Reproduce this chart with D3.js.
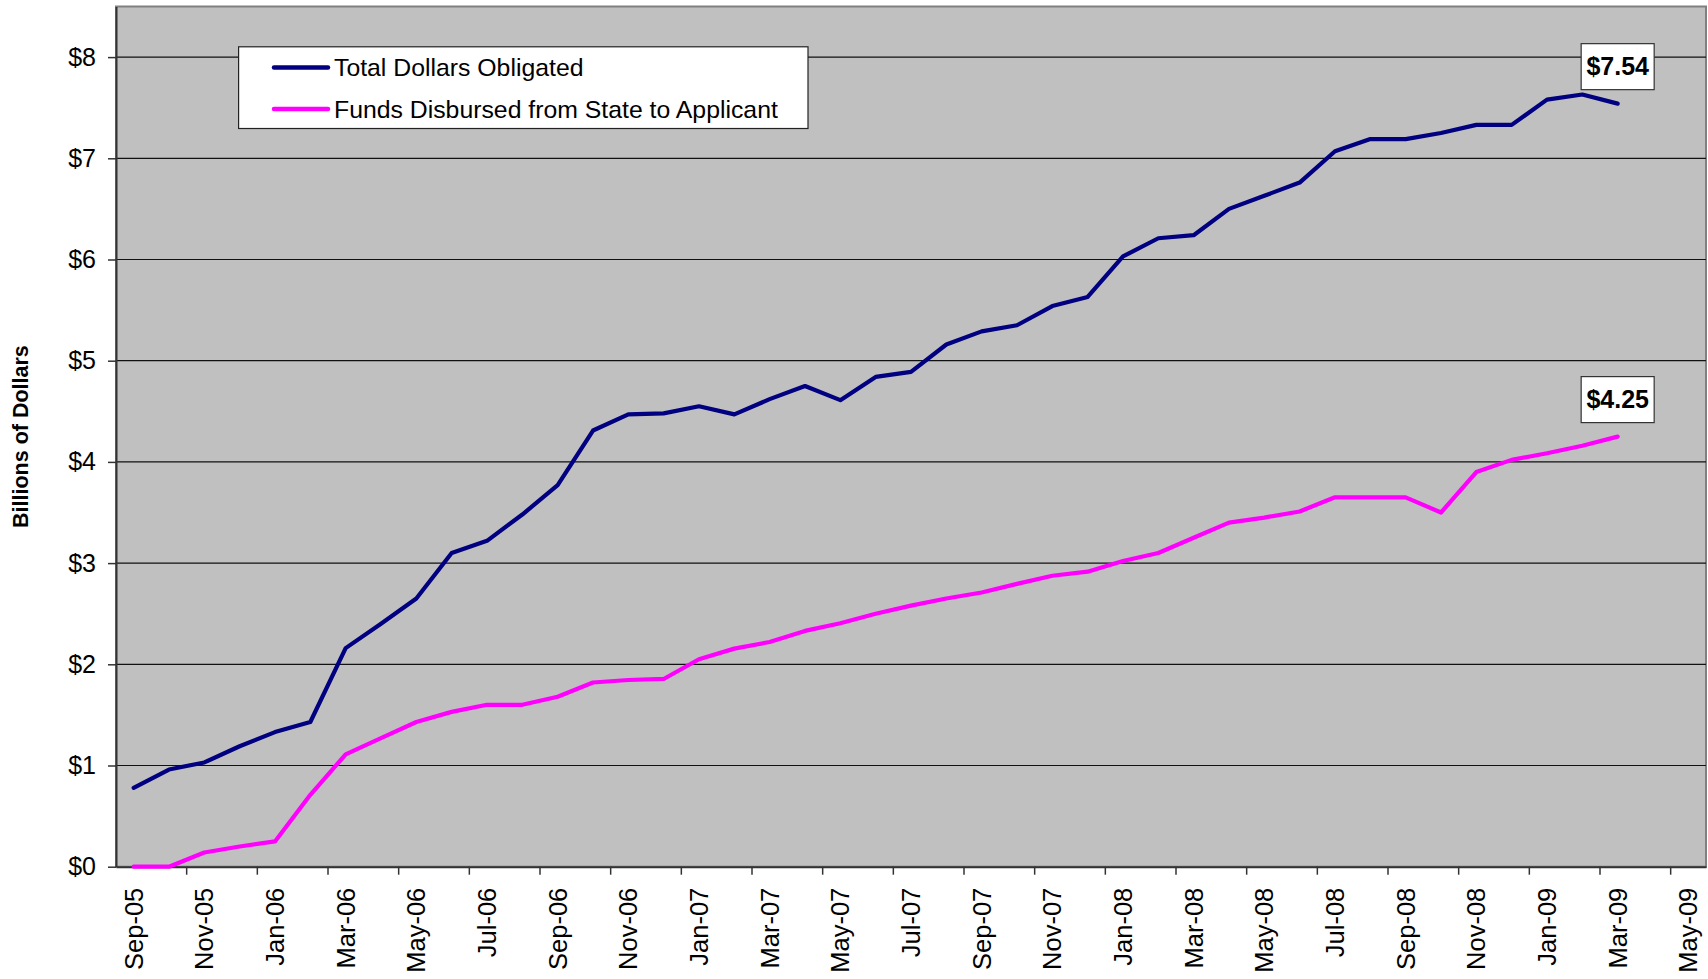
<!DOCTYPE html>
<html>
<head>
<meta charset="utf-8">
<script src="https://cdn.jsdelivr.net/npm/d3@7"></script>
<style>
  body { margin: 0; background: #fff; }
  text { font-family: "Liberation Sans", Arial, sans-serif; }
</style>
</head>
<body>
<div id="chart"></div>
<script>
// months on the axis: Sep-05 .. May-09
const MONTHS = d3.timeMonth.range(new Date(2005, 8, 1), new Date(2009, 5, 1));
const fmtMonth = d3.timeFormat("%b-%y");

// values in billions, one per month Sep-05 .. Mar-09
const obligated = [0.78, 0.96, 1.03, 1.19, 1.33, 1.43, 2.16, 2.40, 2.65, 3.10, 3.22, 3.48, 3.77,
  4.31, 4.47, 4.48, 4.55, 4.47, 4.62, 4.75, 4.61, 4.84, 4.89, 5.16, 5.29, 5.35, 5.54, 5.63,
  6.03, 6.21, 6.24, 6.50, 6.63, 6.76, 7.07, 7.19, 7.19, 7.25, 7.33, 7.33, 7.58, 7.63, 7.54];
const disbursed = [0, 0, 0.14, 0.20, 0.25, 0.71, 1.11, 1.27, 1.43, 1.53, 1.60, 1.60, 1.68,
  1.82, 1.845, 1.855, 2.05, 2.155, 2.22, 2.33, 2.405, 2.50, 2.58, 2.65, 2.71, 2.795, 2.875, 2.915,
  3.02, 3.10, 3.25, 3.40, 3.45, 3.51, 3.65, 3.65, 3.65, 3.50, 3.90, 4.02, 4.085, 4.16, 4.25];

const seriesNames = ["Total Dollars Obligated", "Funds Disbursed from State to Applicant"];
const seriesColors = ["#000080", "#FF00FF"];
const yTicks = [0, 1, 2, 3, 4, 5, 6, 7, 8];

const WIDTH = 1708, HEIGHT = 979;
const MARGIN = { top: 6.5, bottom: 112.3, left: 116, right: 2 };
const FONT = "'Liberation Sans', Arial, sans-serif";

const svg = d3.select("#chart").append("svg")
  .attr("width", WIDTH).attr("height", HEIGHT);

const x = d3.scaleBand()
  .domain(MONTHS.map(fmtMonth))
  .range([MARGIN.left, WIDTH - MARGIN.right])
  .padding(0);

const y = d3.scaleLinear()
  .domain([0, 8.5])
  .range([HEIGHT - MARGIN.bottom, MARGIN.top]);

const cx = i => x(fmtMonth(MONTHS[i])) + x.bandwidth() / 2;

// plot background
svg.append("rect")
  .attr("x", MARGIN.left).attr("y", MARGIN.top)
  .attr("width", WIDTH - MARGIN.right - MARGIN.left)
  .attr("height", y(0) - MARGIN.top)
  .attr("fill", "#C0C0C0")
  .attr("stroke", "#808080")
  .attr("stroke-width", 2);

// gridlines
svg.append("g")
  .selectAll("line")
  .data(yTicks.slice(1))
  .join("line")
  .attr("x1", MARGIN.left).attr("x2", WIDTH - MARGIN.right)
  .attr("y1", d => y(d)).attr("y2", d => y(d))
  .attr("stroke", "#111").attr("stroke-width", 1.2);

// y axis
const yAxis = svg.append("g")
  .attr("transform", `translate(${MARGIN.left},0)`)
  .call(d3.axisLeft(y).tickValues(yTicks).tickFormat(d => "$" + d)
    .tickSize(8).tickSizeOuter(0).tickPadding(12));
yAxis.select(".domain").attr("stroke", "#333").attr("stroke-width", 2);
yAxis.selectAll(".tick line").attr("stroke", "#333").attr("stroke-width", 1.5);
yAxis.selectAll(".tick text")
  .attr("font-size", 25).attr("fill", "#000")
  .style("font-family", FONT);

// x axis (labels at month centre, every 2 months)
const labelMonths = MONTHS.filter((d, i) => i % 2 === 0).map(fmtMonth);
const xAxis = svg.append("g")
  .attr("transform", `translate(0,${y(0)})`)
  .call(d3.axisBottom(x).tickValues(labelMonths).tickSize(0).tickSizeOuter(0));
xAxis.select(".domain").attr("stroke", "#333").attr("stroke-width", 2);
xAxis.selectAll(".tick text")
  .attr("font-size", 25.5).attr("fill", "#000")
  .style("font-family", FONT)
  .attr("transform", "rotate(-90)")
  .attr("text-anchor", "end")
  .attr("x", -21).attr("y", 0).attr("dy", "0.35em");

// tick marks on the band edges
svg.append("g")
  .selectAll("line")
  .data(labelMonths.slice(1))
  .join("line")
  .attr("x1", d => x(d)).attr("x2", d => x(d))
  .attr("y1", y(0)).attr("y2", y(0) + 8)
  .attr("stroke", "#333").attr("stroke-width", 1.5);

// lines
const line = d3.line()
  .x((d, i) => cx(i))
  .y(d => y(d));

[obligated, disbursed].forEach((s, k) => {
  svg.append("path")
    .datum(s)
    .attr("d", line)
    .attr("fill", "none")
    .attr("stroke", seriesColors[k])
    .attr("stroke-width", 4.2)
    .attr("stroke-linejoin", "round")
    .attr("stroke-linecap", "round");
});

// end labels
[obligated, disbursed].forEach(s => {
  const i = s.length - 1;
  const px = cx(i), py = y(s[i]);
  const g = svg.append("g");
  g.append("rect")
    .attr("x", px - 36.5).attr("y", py - 60)
    .attr("width", 73).attr("height", 46)
    .attr("fill", "#fff").attr("stroke", "#333").attr("stroke-width", 1.2);
  g.append("text")
    .attr("x", px).attr("y", py - 37)
    .attr("dy", "0.35em")
    .attr("text-anchor", "middle")
    .attr("font-size", 25).attr("font-weight", "bold")
    .text("$" + d3.format(".2f")(s[i]));
});

// legend
const legend = svg.append("g");
legend.append("rect")
  .attr("x", 238.6).attr("y", 46.8)
  .attr("width", 569.4).attr("height", 81.7)
  .attr("fill", "#fff").attr("stroke", "#222").attr("stroke-width", 1.2);
seriesNames.forEach((name, k) => {
  const ly = 67.5 + k * 41.5;
  legend.append("line")
    .attr("x1", 274).attr("x2", 328)
    .attr("y1", ly).attr("y2", ly)
    .attr("stroke", seriesColors[k]).attr("stroke-width", 4.5)
    .attr("stroke-linecap", "round");
  legend.append("text")
    .attr("x", 334).attr("y", ly).attr("dy", "0.35em")
    .attr("font-size", 24.8)
    .text(name);
});

// y axis title
svg.append("text")
  .attr("transform", `translate(20,${(y(0) + MARGIN.top) / 2}) rotate(-90)`)
  .attr("text-anchor", "middle")
  .attr("dy", "0.35em")
  .attr("font-size", 21.5).attr("font-weight", "bold")
  .text("Billions of Dollars");
</script>
</body>
</html>
